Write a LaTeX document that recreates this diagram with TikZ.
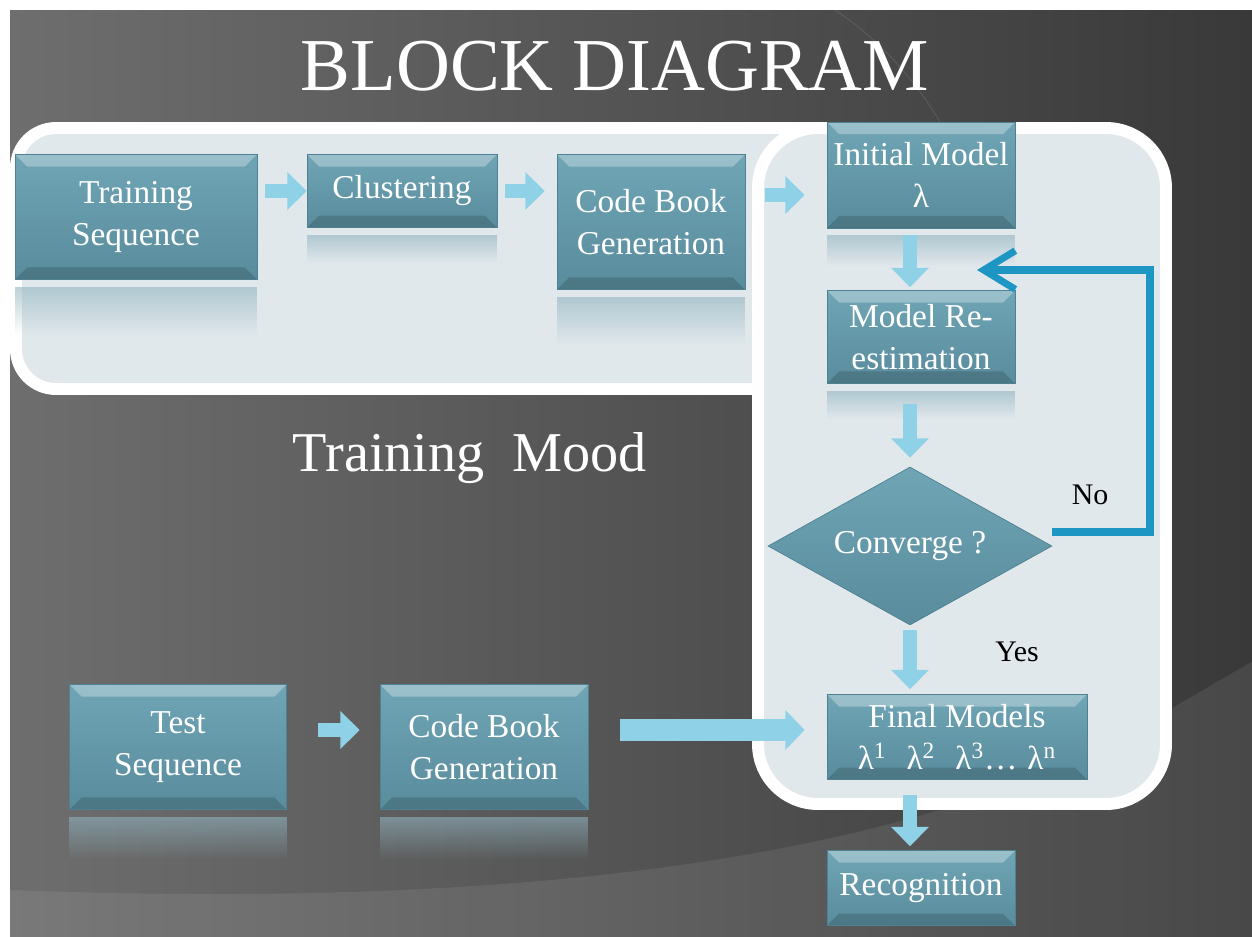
\documentclass[tikz,border=0pt]{standalone}
\usepackage{fontspec}
\setmainfont{Liberation Serif}
\usetikzlibrary{shapes.geometric,arrows.meta,fadings}
\definecolor{slidelight}{HTML}{6E6E6E}
\definecolor{slidedark}{HTML}{393939}
\definecolor{panelfill}{HTML}{E1E8EC}
\definecolor{blktop}{HTML}{6FA5B5}
\definecolor{blkbot}{HTML}{598C9C}
\definecolor{blkedge}{HTML}{4E8191}
\definecolor{chevcol}{HTML}{8FD1E7}
\definecolor{backcol}{HTML}{1E96C4}
\definecolor{reflcol}{HTML}{8FB3BF}
\tikzset{
  bevel/.style={path picture={
    \fill[white,opacity=0.3] (path picture bounding box.north west) -- (path picture bounding box.north east)
      -- ([xshift=-0.24cm,yshift=-0.24cm]path picture bounding box.north east) -- ([xshift=0.24cm,yshift=-0.24cm]path picture bounding box.north west) -- cycle;
    \fill[black,opacity=0.15] (path picture bounding box.south west) -- (path picture bounding box.south east)
      -- ([xshift=-0.24cm,yshift=0.24cm]path picture bounding box.south east) -- ([xshift=0.24cm,yshift=0.24cm]path picture bounding box.south west) -- cycle;}},
  blk/.style={draw=blkedge, top color=blktop, bottom color=blkbot, text=white, bevel,
    font=\fontsize{19}{24}\selectfont, align=center, inner sep=0pt},
  decide/.style={diamond, draw=blkedge, top color=blktop, bottom color=blkbot, text=white,
    font=\fontsize{19}{24}\selectfont, inner sep=0pt, aspect=1.8},
  refl/.style={fill=reflcol, path fading=south, fill opacity=0.6},
  panel/.style={draw=white, line width=6.8pt, fill=panelfill},
  flow/.style={chevcol, line width=8.5pt, -{Triangle[length=11pt,width=21pt]}},
  longflow/.style={chevcol, line width=12pt, -{Triangle[length=11pt,width=22pt]}},
  back/.style={backcol, line width=4pt, -{Straight Barb[length=18pt,width=22pt]}},
  lbl/.style={font=\fontsize{17}{20}\selectfont}
}
\begin{document}
\begin{tikzpicture}[x=0.02cm, y=-0.02cm]
\useasboundingbox (0,0) rectangle (1252,937);
\fill[white] (0,0) rectangle (1252,937);
\shade[left color=slidelight, right color=slidedark] (10,10) rectangle (1252,937);
\fill[white, opacity=0.08] (10,890) .. controls (400,905) and (750,880) .. (1000,790) .. controls (1120,745) and (1200,690) .. (1252,662) -- (1252,937) -- (10,937) -- cycle;
\draw[white, opacity=0.12] (835,10) .. controls (880,40) and (915,80) .. (940,122);
%%%%%%%%%%%%%
\node[text=white, font=\fontsize{42.5}{48}\selectfont] (title) at (615,66) {BLOCK DIAGRAM};
\draw[panel, rounded corners=0.8cm] (16,128) rectangle (1000,389);
\draw[panel, rounded corners=1.2cm] (758,128) rectangle (1166,804);
\node[text=white, font=\fontsize{32}{36}\selectfont] (mood) at (470,458) {Training\ \ Mood};
%%%%%%%%%%%%%
\node[blk, minimum width=4.84cm, minimum height=2.5cm] (trainseq) at (136,217) {Training\\Sequence};
\node[blk, minimum width=3.8cm, minimum height=1.46cm] (clust) at (402,191) {Clustering};
\node[blk, minimum width=3.76cm, minimum height=2.7cm] (cbgen) at (651,222) {Code Book\\Generation};
\node[blk, minimum width=3.76cm, minimum height=2.12cm] (initmodel) at (921,175) {Initial Model\\λ};
\node[blk, minimum width=3.76cm, minimum height=1.86cm] (reest) at (921,337) {Model Re-\\estimation};
\node[decide, minimum width=5.68cm, minimum height=3.16cm] (conv) at (910,546) {Converge ?};
\node[blk, minimum width=5.2cm, minimum height=1.7cm] (final) at (957,737) {Final Models\\λ\textsuperscript{1}\hspace{0.6em}λ\textsuperscript{2}\hspace{0.6em}λ\textsuperscript{3}…\hspace{0.3em}λ\textsuperscript{n}};
\node[blk, minimum width=3.76cm, minimum height=1.5cm] (recog) at (921,888) {Recognition};
\node[blk, minimum width=4.34cm, minimum height=2.5cm] (testseq) at (178,747) {Test\\Sequence};
\node[blk, minimum width=4.16cm, minimum height=2.5cm] (cbgen2) at (484,747) {Code Book\\Generation};
\foreach \b/\d in {trainseq/1.1, clust/0.7, cbgen/1.1, initmodel/0.75, reest/0.7, testseq/1.0, cbgen2/1.0}
  \fill[refl] ([yshift=-0.14cm]\b.south west) rectangle ([yshift=-\d cm]\b.south east);
\node[lbl] (no) at (1090,495) {No};
\node[lbl] (yes) at (1017,652) {Yes};
%%%%%%%%%%%%%
\draw[flow, shorten <=0.16cm, shorten >=0cm] (clust.west -| trainseq.east) -- (clust.west);
\draw[flow, shorten <=0.16cm, shorten >=0.24cm] (clust.east) -- (clust.east -| cbgen.west);
\draw[flow, shorten <=0.4cm, shorten >=0.44cm] ([yshift=0.54cm]cbgen.east) -- ([yshift=0.54cm]cbgen.east -| initmodel.west);
\draw[flow, shorten <=0.14cm, shorten >=0.06cm] (initmodel.south -| conv) -- (reest.north -| conv);
\draw[flow, shorten <=0.4cm, shorten >=0.18cm] (reest.south -| conv) -- (conv.north);
\draw[flow, shorten <=0.1cm, shorten >=0.1cm] (conv.south) -- (final.north -| conv);
\draw[flow, shorten <=0.3cm, shorten >=0.08cm] (final.south -| conv) -- (recog.north -| conv);
\draw[flow, shorten <=0.62cm, shorten >=0.4cm] ([yshift=0.34cm]testseq.east) -- ([yshift=0.34cm]cbgen2.west);
\draw[longflow, shorten <=0.64cm, shorten >=0.44cm] ([yshift=0.34cm]cbgen2.east) -- ([yshift=0.34cm]cbgen2.east -| final.west);
%%%%%%%%%%%%%
\coordinate (loopin) at (977,270);
\coordinate (loopturn) at (1150,270);
\draw[back] ([yshift=0.28cm]conv.east) -| (loopturn) -- (loopin);
\end{tikzpicture}
\end{document}
